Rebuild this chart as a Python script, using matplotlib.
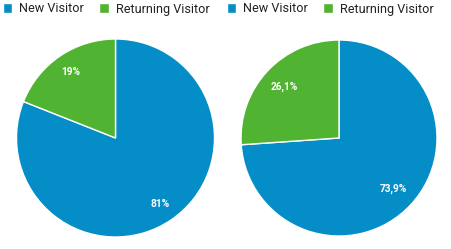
import matplotlib
matplotlib.use('Agg')
from matplotlib import pyplot as plt
import numpy as np

plt.rcParams['font.family'] = ['Roboto', 'DejaVu Sans']

categories = ['New Visitor', 'Returning Visitor']
colors = ['#058DC7', '#50B432']

left_values = [81, 19]
left_labels = ['81%', '19%']
right_values = [73.9, 26.1]
right_labels = ['73,9%', '26,1%']

W, H = 451, 249
fig = plt.figure(figsize=(W / 100, H / 100), dpi=100)


def px_axes(cx, cy, r):
    # axes box in pixel coords (y from top) -> figure fraction
    return fig.add_axes([(cx - r) / W, (H - cy - r) / H, 2 * r / W, 2 * r / H])


def draw_pie(ax, values, labels, pctdist, legend_x):
    wedges, _ = ax.pie(values, colors=colors, startangle=90, counterclock=False,
                       wedgeprops=dict(edgecolor='white', linewidth=1))
    total = sum(values)
    ang = 90.0
    for v, lab in zip(values, labels):
        span = 360.0 * v / total
        mid = np.deg2rad(ang - span / 2)
        ax.text(pctdist * np.cos(mid), pctdist * np.sin(mid), lab, color='white',
                fontsize=7.3, fontweight='bold', ha='center', va='center')
        ang -= span
    ax.set_xlim(-1, 1)
    ax.set_ylim(-1, 1)
    ax.set_aspect('equal')
    ax.axis('off')
    fig.legend(wedges, categories, ncol=2, frameon=False, fontsize=9.1,
               loc='upper left', bbox_to_anchor=(legend_x / W, 1 - 2.5 / H),
               handlelength=0.78, handleheight=0.78, handletextpad=0.55,
               columnspacing=1.2, borderaxespad=0, borderpad=0,
               labelcolor='#222222')


ax1 = px_axes(115.5, 138, 99)
draw_pie(ax1, left_values, left_labels, 0.8, 2.5)

ax2 = px_axes(339, 138, 98)
draw_pie(ax2, right_values, right_labels, 0.76, 226.5)

fig.savefig('out.png', dpi=100)
